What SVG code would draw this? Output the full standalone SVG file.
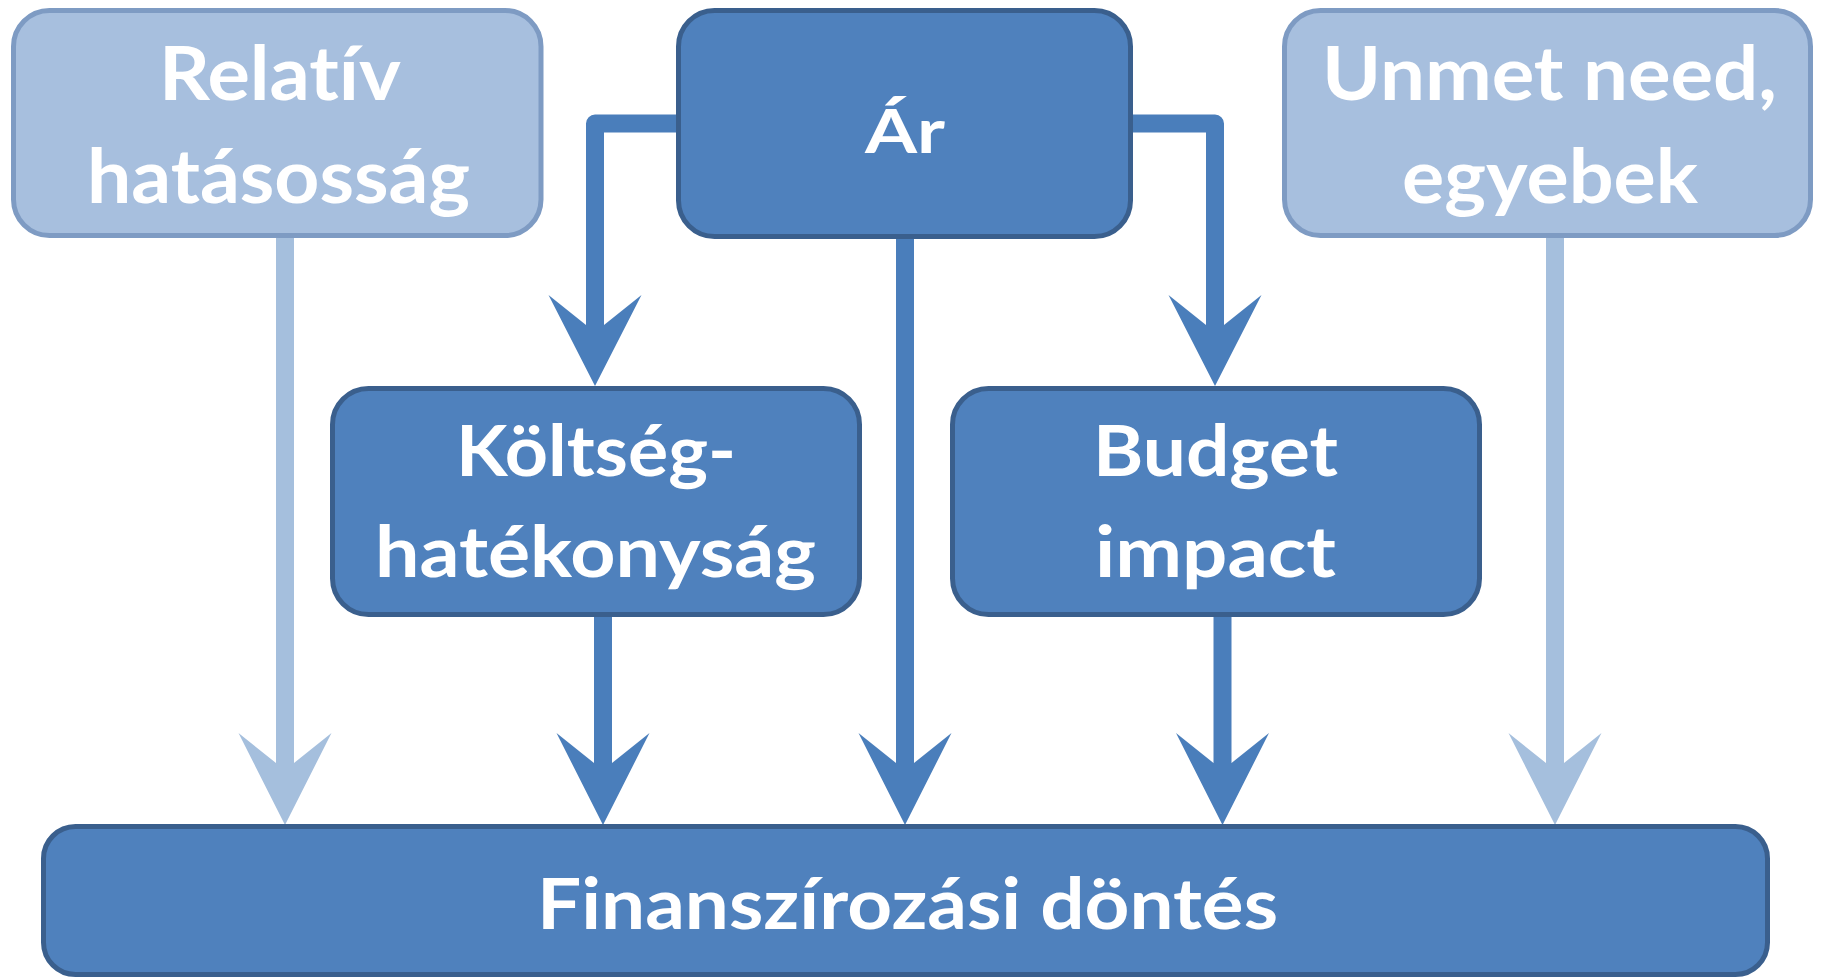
<svg xmlns="http://www.w3.org/2000/svg" width="1821" height="978" viewBox="0 0 1821 978">
<defs>
<style>
.dark rect{fill:#4F81BD;stroke:#3A5F8D;stroke-width:5}
.light rect{fill:#A7BFDE;stroke:#7E9BC3;stroke-width:5}
text{font-family:Lato,"Open Sans","Liberation Sans",sans-serif;font-weight:700;fill:#FFFFFF;text-anchor:middle;font-variant-ligatures:none;font-feature-settings:"liga" 0,"clig" 0,"dlig" 0}
.stem{fill:none;stroke:#4A7EBB;stroke-width:18;stroke-linejoin:round}
.stemL{fill:none;stroke:#A5BFDD;stroke-width:18}
.head{fill:#4A7EBB}
.headL{fill:#A5BFDD}
</style>
</defs>
<rect width="1821" height="978" fill="#FFFFFF"/>
<g id="connectors">
<path class="stemL" d="M285 236 V766"/>
<polygon class="headL" points="285,825 238.5,733 276,763 294,763 331.5,733"/>
<path class="stemL" d="M1555 236 V766"/>
<polygon class="headL" points="1555,825 1508.5,733 1546,763 1564,763 1601.5,733"/>
<path class="stem" d="M681 123.5 H595 V328"/>
<polygon class="head" points="595,386 548.5,295 586,325 604,325 641.5,295"/>
<path class="stem" d="M1129 123.5 H1215 V328"/>
<polygon class="head" points="1215,386 1168.5,295 1206,325 1224,325 1261.5,295"/>
<path class="stem" d="M905 236 V766"/>
<polygon class="head" points="905,825 858.5,733 896,763 914,763 951.5,733"/>
<path class="stem" d="M603 614 V766"/>
<polygon class="head" points="603,825 556.5,733 594,763 612,763 649.5,733"/>
<path class="stem" d="M1222.5 614 V766"/>
<polygon class="head" points="1222.5,825 1176,733 1213.5,763 1231.5,763 1269,733"/>
</g>
<g id="relativ" class="light">
<rect x="13.5" y="10.5" width="527.5" height="225" rx="36"/>
<text x="280" y="100" font-size="74" textLength="242" lengthAdjust="spacingAndGlyphs">Relatív</text>
<text x="278.5" y="203" font-size="74" textLength="383" lengthAdjust="spacingAndGlyphs">hatásosság</text>
</g>
<g id="ar" class="dark">
<rect x="678.5" y="10.5" width="452" height="226" rx="36"/>
<text x="905" y="153" font-size="61" textLength="80" lengthAdjust="spacingAndGlyphs">Ár</text>
</g>
<g id="unmet" class="light">
<rect x="1284.5" y="10.5" width="526" height="225" rx="36"/>
<text x="1549.5" y="100" font-size="74" textLength="455" lengthAdjust="spacingAndGlyphs">Unmet need,</text>
<text x="1550" y="203" font-size="74" textLength="296" lengthAdjust="spacingAndGlyphs">egyebek</text>
</g>
<g id="koltseg" class="dark">
<rect x="332.5" y="388.5" width="527" height="226" rx="36"/>
<text x="596" y="476" font-size="70" textLength="280" lengthAdjust="spacingAndGlyphs">Költség-</text>
<text x="595.5" y="577" font-size="70" textLength="441" lengthAdjust="spacingAndGlyphs">hatékonyság</text>
</g>
<g id="budget" class="dark">
<rect x="952.5" y="388.5" width="527" height="226" rx="36"/>
<text x="1215.5" y="476" font-size="70" textLength="245" lengthAdjust="spacingAndGlyphs">Budget</text>
<text x="1215.5" y="577" font-size="70" textLength="241" lengthAdjust="spacingAndGlyphs">impact</text>
</g>
<g id="dontes" class="dark">
<rect x="43.5" y="826.5" width="1724" height="148" rx="32"/>
<text x="907.5" y="929" font-size="70" textLength="741" lengthAdjust="spacingAndGlyphs">Finanszírozási döntés</text>
</g>
</svg>
